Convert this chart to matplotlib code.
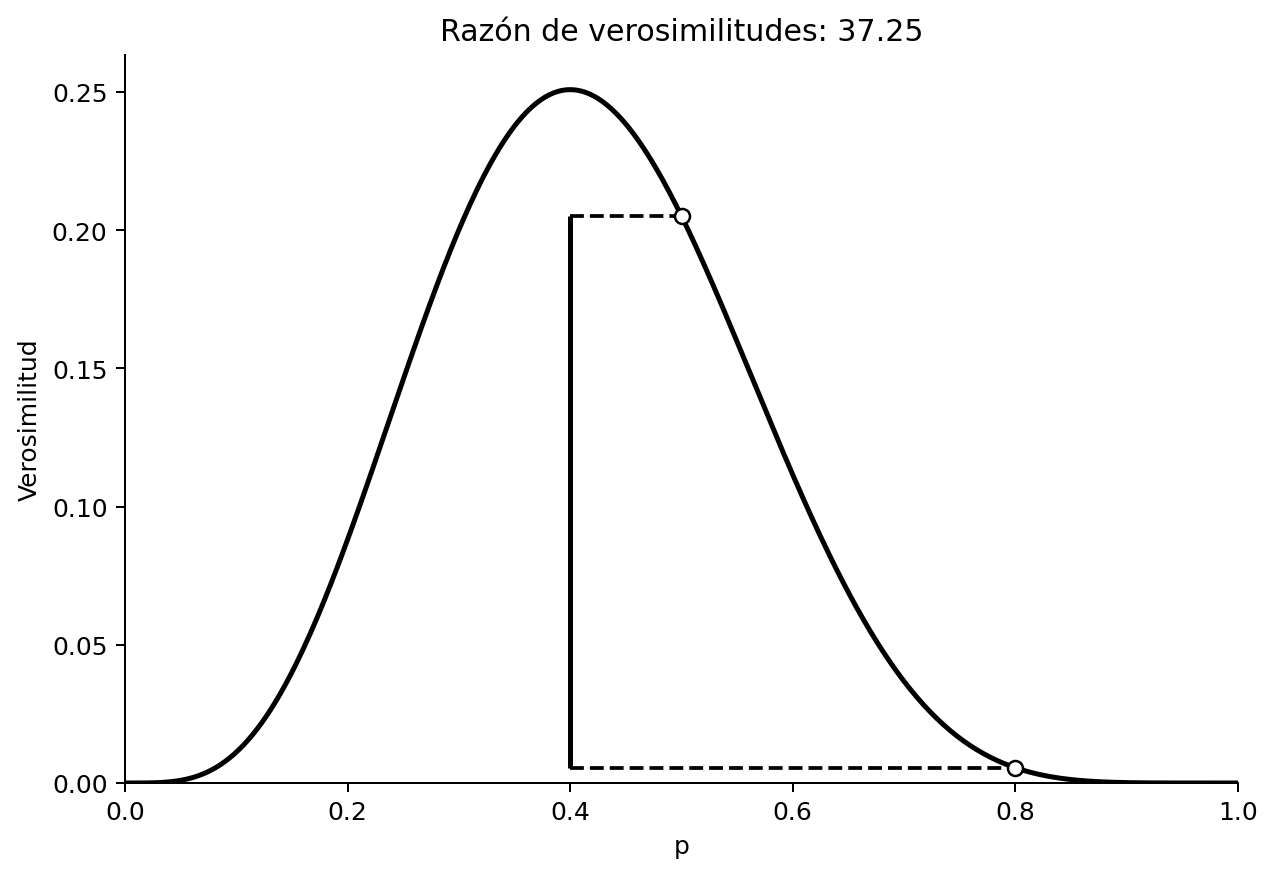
import numpy as np
from math import comb
import matplotlib
matplotlib.use("Agg")
from matplotlib import pyplot as plt

# Binomial likelihood: 4 successes in 10 trials
n_trials = 10
successes = 4
p_compare = [0.5, 0.8]
p_ref_line = 0.4


def likelihood(p):
    return comb(n_trials, successes) * p ** successes * (1 - p) ** (n_trials - successes)


p_grid = np.linspace(0, 1, 500)
lik = likelihood(p_grid)
l_hi = likelihood(p_compare[0])
l_lo = likelihood(p_compare[1])
ratio = l_hi / l_lo

dpi = 180
fig = plt.figure(figsize=(1277 / dpi, 877 / dpi), dpi=dpi)
ax = fig.add_axes([125 / 1277, 1 - 784 / 877, (1238 - 125) / 1277, (784 - 56) / 877])

ax.plot(p_grid, lik, color="black", lw=2)
ax.vlines(p_ref_line, l_lo, l_hi, color="black", lw=2)
ax.hlines(l_hi, p_ref_line, p_compare[0], color="black", linestyles="--", lw=1.5)
ax.hlines(l_lo, p_ref_line, p_compare[1], color="black", linestyles="--", lw=1.5)
ax.plot(p_compare, [l_hi, l_lo], "o", markerfacecolor="white",
        markeredgecolor="black", markersize=6, zorder=5)

ax.set_xlim(0, 1)
ax.set_ylim(0, lik.max() * 1.05)
ax.spines["top"].set_visible(False)
ax.spines["right"].set_visible(False)
ax.set_xlabel("p")
ax.set_ylabel("Verosimilitud")
ax.set_title(f"Razón de verosimilitudes: {ratio:.2f}")

fig.savefig("out.png", dpi=dpi)
